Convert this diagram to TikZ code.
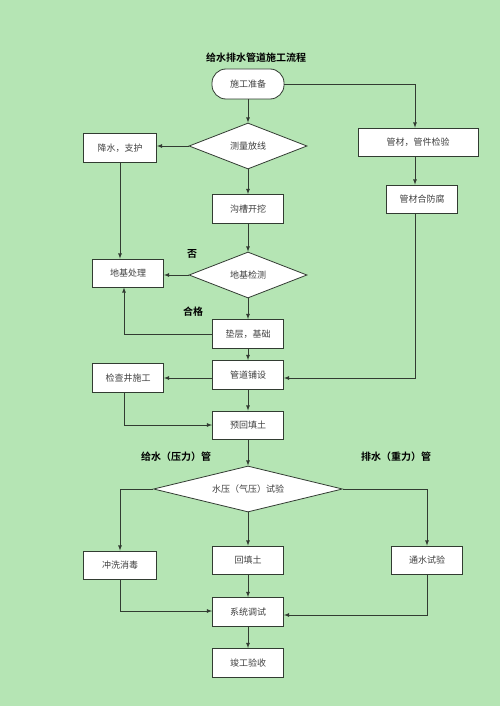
\documentclass[tikz,border=0pt]{standalone}
\usepackage{fontspec}
\newfontfamily\cjk{Noto Sans CJK SC}
\newfontfamily\cjkbold{Noto Sans CJK SC Bold}
\usetikzlibrary{shapes,
                arrows,
                positioning}
\definecolor{bggreen}{RGB}{181,229,180}
\definecolor{linegray}{RGB}{50,60,50}
\tikzset{block/.style=
   {rectangle,
    draw=linegray,
    fill=white,
    line width=0.8pt,
    text=black!75,
    font=\cjk\fontsize{9}{10}\selectfont,
    text centered,
    minimum width=71pt,
    minimum height=29pt}}
\tikzset{start/.style=
   {block,
    rounded corners=14pt,
    minimum width=72pt,
    minimum height=30pt}}
\tikzset{decision/.style=
   {diamond,
    draw=linegray,
    fill=white,
    line width=0.8pt,
    text=black!75,
    font=\cjk\fontsize{9}{10}\selectfont,
    aspect=2.6,
    inner sep=0pt,
    text centered}}
\tikzset{tag/.style =
   {font=\cjkbold\fontsize{10}{11}\selectfont,
    text=black}}
\tikzset{arrow/.style = {draw=linegray, line width=0.8pt, -latex}}

\begin{document}
\begin{tikzpicture}[x=1pt, y=-1pt]
    \fill[bggreen] (0,0) rectangle (500,706);
    \useasboundingbox (0,0) rectangle (500,706);

    \node [tag] (title) at (256,58) {给水排水管道施工流程};

    \node [start] (zhunbei) at (248,84) {施工准备};
    \node [decision, minimum width=118pt, minimum height=46pt] (celiang) at (248,146) {测量放线};
    \node [block, minimum width=73pt] (jiangshui) at (120,148) {降水，支护};
    \node [block] (goucao) at (248,209) {沟槽开挖};
    \node [decision, minimum width=118pt, minimum height=46pt] (jiance) at (248,275) {地基检测};
    \node [block, minimum height=28pt] (chuli) at (128,273) {地基处理};
    \node [block] (dianceng) at (248,334) {垫层，基础};
    \node [block] (puzhe) at (248,375) {管道铺设};
    \node [block] (jianchajing) at (128,378) {检查井施工};
    \node [block, minimum height=28pt] (yuhuitian) at (248,425) {预回填土};

    \node [block, minimum width=120pt, minimum height=28pt] (jianyan) at (418,142) {管材，管件检验};
    \node [block, minimum height=28pt] (fangfu) at (422,199) {管材合防腐};

    \node [tag] (fou) at (192,254) {否};
    \node [tag] (hege) at (193,312) {合格};
    \node [tag] (geishui) at (176,457) {给水（压力）管};
    \node [tag] (paishui) at (396,457) {排水（重力）管};

    \node [decision, minimum width=189pt, minimum height=46pt, aspect=4] (shiya) at (248,489) {水压（气压）试验};
    \node [block, minimum width=73pt, minimum height=28pt] (chongxi) at (120,565) {冲洗消毒};
    \node [block, minimum height=28pt] (huitian) at (248,560) {回填土};
    \node [block, minimum height=28pt] (tongshui) at (427,560) {通水试验};
    \node [block] (tiaoshi) at (248,612) {系统调试};
    \node [block] (jungong) at (248,663) {竣工验收};

    % main column
    \draw [arrow] (zhunbei) -- (celiang);
    \draw [arrow] (celiang) -- (goucao);
    \draw [arrow] (goucao) -- (jiance);
    \draw [arrow] (jiance) -- (dianceng);
    \draw [arrow] (dianceng) -- (puzhe);
    \draw [arrow] (puzhe) -- (yuhuitian);
    \draw [arrow] (yuhuitian) -- (shiya);
    \draw [arrow] (shiya) -- (huitian);
    \draw [arrow] (huitian) -- (tiaoshi);
    \draw [arrow] (tiaoshi) -- (jungong);

    % side branches
    \draw [arrow] (celiang.west) -- (jiangshui.east |- celiang.west);
    \draw [arrow] (jiangshui.south) -- (jiangshui.south |- chuli.north);
    \draw [arrow] (jiance.west) -- (chuli.east |- jiance.west);
    \draw [arrow] (dianceng.west) -| ([xshift=-4pt]chuli.south);
    \draw [arrow] (puzhe.west |- jianchajing.east) -- (jianchajing.east);
    \draw [arrow] ([xshift=-4pt]jianchajing.south) |- (yuhuitian.west);

    % materials
    \draw [arrow] (zhunbei.east) -| ([xshift=-3pt]jianyan.north);
    \draw [arrow] ([xshift=-3pt]jianyan.south) -- ([xshift=-3pt]jianyan.south |- fangfu.north);
    \draw [arrow] ([xshift=-7pt]fangfu.south) |- ([yshift=-3pt]puzhe.east);

    % tests
    \draw [arrow] (shiya.west) -| (chongxi.north);
    \draw [arrow] (shiya.east) -| (tongshui.north);
    \draw [arrow] (chongxi.south) |- ([yshift=1pt]tiaoshi.west);
    \draw [arrow] (tongshui.south) |- ([yshift=-3pt]tiaoshi.east);
\end{tikzpicture}
\end{document}
